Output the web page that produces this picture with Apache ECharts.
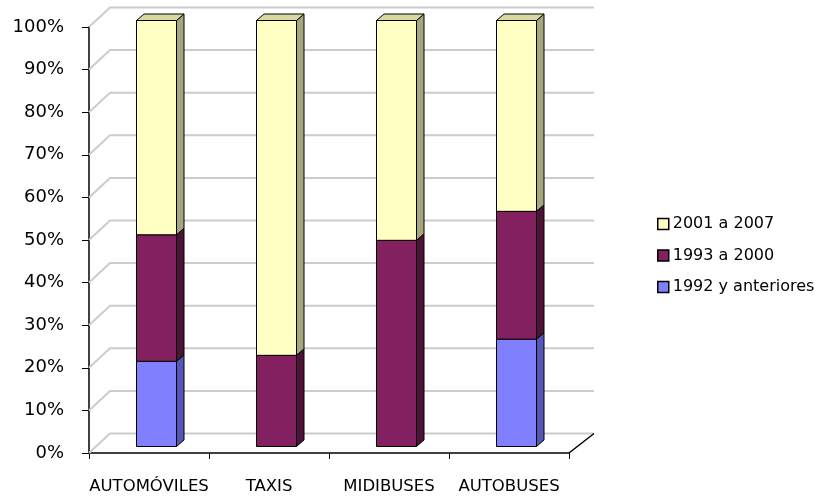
<!DOCTYPE html>
<html>
<head>
<meta charset="utf-8">
<script src="https://cdn.jsdelivr.net/npm/echarts@6/dist/echarts.min.js"></script>
<style>
html,body{margin:0;padding:0;background:#fff;}
#chart{width:815px;height:497px;}
</style>
</head>
<body>
<div id="chart"></div>
<script>
// ---- data ----
const categories = ['AUTOMÓVILES', 'TAXIS', 'MIDIBUSES', 'AUTOBUSES'];
const seriesNames = ['1992 y anteriores', '1993 a 2000', '2001 a 2007'];
const s1992 = [20.0, 0, 0, 25.2];
const s1993 = [29.7, 21.4, 48.4, 30.0];
const s2001 = [50.3, 78.6, 51.6, 44.8];
const yTicks = [0, 10, 20, 30, 40, 50, 60, 70, 80, 90, 100];

// ---- styling ----
const FONT = 'DejaVu Sans';
const palette = [
  {front: '#8080FF', side: '#5656B8', top: '#A0A0FF'},
  {front: '#822060', side: '#4E1238', top: '#A04080'},
  {front: '#FFFFC4', side: '#A6A67C', top: '#D8D8A0'}
];
const WX = 21, WY = -19.5;      // back wall offset
const FX = 7.5, FY = -6.5;      // bar front-face offset
const DX = 7.5, DY = -6.5;      // bar depth
const BAR_W = 40;

const allVals = [s1992, s1993, s2001];
function stackData(idx) {
  return categories.map((c, i) => {
    let base = 0;
    for (let k = 0; k < idx; k++) base += allVals[k][i];
    return [i, base, base + allVals[idx][i]];
  });
}

function barRender(sIdx) {
  return function (params, api) {
    const cat = api.value(0), lo = api.value(1), hi = api.value(2);
    if (hi - lo <= 0) return null;
    const p0 = api.coord([cat, lo]);
    const p1 = api.coord([cat, hi]);
    const x0 = p0[0] - BAR_W / 2 + FX;
    const yB = p0[1] + FY, yT = p1[1] + FY;
    const col = palette[sIdx];
    const stroke = {stroke: '#000', lineWidth: 1, lineJoin: 'round'};
    const children = [
      {type: 'polygon', shape: {points: [[x0 + BAR_W, yB], [x0 + BAR_W + DX, yB + DY], [x0 + BAR_W + DX, yT + DY], [x0 + BAR_W, yT]]},
        style: Object.assign({fill: col.side}, stroke)},
      {type: 'rect', shape: {x: x0, y: yT, width: BAR_W, height: yB - yT},
        style: Object.assign({fill: col.front}, stroke)}
    ];
    if (sIdx === 2) {
      children.push({type: 'polygon', shape: {points: [[x0, yT], [x0 + DX, yT + DY], [x0 + BAR_W + DX, yT + DY], [x0 + BAR_W, yT]]},
        style: Object.assign({fill: col.top}, stroke)});
    }
    return {type: 'group', children: children};
  };
}

const gridSeries = {
  type: 'custom',
  silent: true,
  z: 1,
  data: yTicks.map(v => [0, v]),
  encode: {x: 0, y: 1},
  renderItem: function (params, api) {
    const cs = params.coordSys;
    const y = api.coord([0, api.value(1)])[1];
    const x0 = cs.x;
    const xEnd = cs.x + cs.width + 25;
    const children = [{
      type: 'polyline',
      shape: {points: [[x0, y], [x0 + WX, y + WY], [xEnd, y + WY]]},
      style: {stroke: '#CCCCCC', lineWidth: 2, fill: null}
    }];
    if (api.value(1) === 0) {
      children.push({
        type: 'line',
        shape: {x1: cs.x + cs.width, y1: y, x2: xEnd, y2: y + WY},
        style: {stroke: '#000', lineWidth: 1.5}
      });
    }
    return {type: 'group', children: children};
  }
};

const barSeries = seriesNames.map((name, idx) => ({
  type: 'custom',
  name: name,
  z: 3,
  itemStyle: {color: palette[idx].front, borderColor: '#000', borderWidth: 1},
  data: stackData(idx),
  encode: {x: 0, y: [1, 2]},
  renderItem: barRender(idx)
}));

const chart = echarts.init(document.getElementById('chart'), null, {renderer: 'canvas'});
chart.setOption({
  animation: false,
  backgroundColor: '#fff',
  textStyle: {fontFamily: FONT, color: '#000'},
  grid: {left: 89, top: 27, width: 480, bottom: 44},
  xAxis: {
    type: 'category',
    data: categories,
    boundaryGap: true,
    axisLine: {show: true, lineStyle: {color: '#000', width: 1.5}},
    axisTick: {show: true, alignWithLabel: false, length: 6, lineStyle: {color: '#000', width: 1}},
    axisLabel: {fontFamily: FONT, fontSize: 16.5, color: '#000', margin: 25, interval: 0, hideOverlap: false},
    splitLine: {show: false}
  },
  yAxis: {
    type: 'value',
    min: 0, max: 100, interval: 10,
    axisLine: {show: true, lineStyle: {color: '#000', width: 1.5}},
    axisTick: {show: true, length: 7, lineStyle: {color: '#000', width: 1}},
    axisLabel: {fontFamily: FONT, fontSize: 18, color: '#000', margin: 25, formatter: '{value}%'},
    splitLine: {show: false}
  },
  legend: {
    orient: 'vertical',
    left: 652, top: 211,
    data: ['2001 a 2007', '1993 a 2000', '1992 y anteriores'],
    icon: 'rect',
    itemWidth: 11, itemHeight: 11,
    itemGap: 15.5,
    itemStyle: {borderColor: '#000', borderWidth: 1.5},
    textStyle: {fontFamily: FONT, fontSize: 16, color: '#000', padding: [0, 0, 0, -1]},
    selectedMode: false
  },
  series: [gridSeries].concat(barSeries)
});
</script>
</body>
</html>
